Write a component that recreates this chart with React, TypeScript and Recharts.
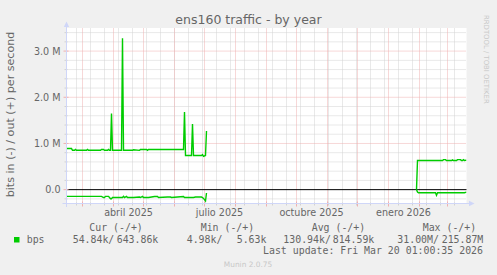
import React from 'react';
import { LineChart, Line, XAxis, YAxis, CartesianGrid, ReferenceLine } from 'recharts';

// x = days since the left edge of the graph (400 days ending Mar 20 2026), y = Mbit/s
const sampleDays = [
  0, 5, 6, 8, 9, 10, 20, 21, 22, 34, 35, 37, 38, 39, 41, 42, 43, 44, 45, 46,
  55, 56, 57, 58, 60, 61, 66, 67, 73, 74, 76, 77, 80, 81, 82, 88, 91, 92, 101, 104,
  105, 111, 117, 118, 119, 125, 126, 127, 129, 135, 136, 137, 139, 140, 141,
  350, 351, 352, 369, 370, 371, 376, 377, 379, 380, 385, 386, 387, 390, 391,
  394, 395, 396, 397, 398, 400,
];
const outMbps = [
  0.89, 0.89, 0.853, 0.853, 0.87, 0.853, 0.853, 0.87, 0.853, 0.853, 0.87, 0.87, 0.853, 0.853, 0.853, 0.87, 0.853, 0.853, 1.65, 0.853,
  0.853, 3.28, 0.853, 0.853, 0.853, 0.853, 0.853, 0.865, 0.85, 0.87, 0.87, 0.87, 0.87, 0.85, 0.87, 0.87, 0.87, 0.87, 0.87, 0.87,
  0.87, 0.87, 0.87, 1.68, 0.74, 0.74, 1.42, 0.74, 0.74, 0.74, 0.76, 0.72, 0.74, 1.27, null,
  0, 0.63, 0.63, 0.63, 0.63, 0.63, 0.63, 0.65, 0.65, 0.63, 0.63, 0.645, 0.63, 0.63, 0.65,
  0.65, 0.63, 0.63, 0.65, 0.63, 0.64,
];
const inMbps = [
  -0.146, -0.146, -0.146, -0.146, -0.146, -0.146, -0.146, -0.146, -0.146, -0.146, -0.146, -0.17, -0.17, -0.146, -0.146, -0.146, -0.17, -0.196, -0.196, -0.17,
  -0.17, -0.17, -0.146, -0.17, -0.146, -0.17, -0.17, -0.17, -0.16, -0.17, -0.145, -0.17, -0.17, -0.17, -0.17, -0.15, -0.15, -0.17, -0.16, -0.16,
  -0.17, -0.16, -0.15, -0.17, -0.17, -0.17, -0.17, -0.17, -0.16, -0.16, -0.17, -0.19, -0.247, -0.073, null,
  0, -0.051, -0.066, -0.066, -0.124, -0.066, -0.066, -0.066, -0.066, -0.066, -0.066, -0.066, -0.066, -0.066, -0.066,
  -0.066, -0.066, -0.066, -0.066, -0.066, -0.055,
];

const monthStartDays = [16, 47, 77, 108, 138, 169, 200, 230, 261, 291, 322, 353, 381];
const minorGridDays = [
  10, 24, 38, 52, 66, 80, 94, 108, 122, 136, 150, 164, 178, 192, 206, 220, 234, 248,
  262, 276, 290, 304, 318, 332, 346, 360, 374, 388,
];
const monthLabelDays = [62, 153, 245, 337];
const monthLabels = ['abril 2025', 'julio 2025', 'octubre 2025', 'enero 2026'];

const majorValues = [0, 1, 2, 3];
const majorLabels = ['0.0', '1.0 M', '2.0 M', '3.0 M'];
const minorValues = [-0.2, 0.2, 0.4, 0.6, 0.8, 1.2, 1.4, 1.6, 1.8, 2.2, 2.4, 2.6, 2.8, 3.2, 3.4];

const legendHeads = ['Cur (-/+)', 'Min (-/+)', 'Avg (-/+)', 'Max (-/+)'];
const legendIn = ['54.84k/', '4.98k/', '130.94k/', '31.00M/'];
const legendOut = ['643.86k', '5.63k', '814.59k', '215.87M'];

const rows = sampleDays.map((d, i) => ({ day: d, out: outMbps[i], in: inMbps[i] }));

const FONT = 'DejaVu Sans, sans-serif';
const MONO = 'DejaVu Sans Mono, monospace';
const TEXT = '#666666';
const AXIS = '#CFD6F8';
const GRID = '#d2d2d2';
const MGRID = '#efb0b0';
const GREEN = '#00CC00';

const xTicks = Array.from(new Set([...minorGridDays, ...monthStartDays, ...monthLabelDays])).sort((a, b) => a - b);
const yTicks = [...minorValues, ...majorValues].sort((a, b) => a - b);

const XTick = ({ x, y, payload }: any) => {
  const v = payload.value;
  const li = monthLabelDays.indexOf(v);
  if (li >= 0) {
    return (
      <text x={x} y={y + 12.5} textAnchor="middle" fontSize={9.6} fill={TEXT} fontFamily={FONT}>
        {monthLabels[li]}
      </text>
    );
  }
  const major = monthStartDays.includes(v);
  return <line x1={x} x2={x} y1={y - (major ? 2 : 1)} y2={y + (major ? 3 : 2)} stroke={major ? MGRID : GRID} />;
};

const YTick = ({ x, y, payload }: any) => {
  const v = payload.value;
  const mi = majorValues.indexOf(v);
  return (
    <g>
      <line x1={x - (mi >= 0 ? 3 : 2)} x2={x + (mi >= 0 ? 2 : 1)} y1={y} y2={y} stroke={mi >= 0 ? MGRID : GRID} />
      {mi >= 0 && (
        <text x={x - 6} y={y + 3.5} textAnchor="end" fontSize={9.6} fill={TEXT} fontFamily={FONT}>
          {majorLabels[mi]}
        </text>
      )}
    </g>
  );
};

export default function App() {
  return (
    <div style={{ position: 'absolute', left: 0, top: 0, width: 497, height: 275, background: '#F0F0F0', overflow: 'hidden' }}>
      <LineChart
        width={497}
        height={275}
        data={rows}
        margin={{ top: 28, right: 30.5, bottom: 41.5, left: 6.5 }}
        style={{ position: 'absolute', left: 0, top: 0 }}
      >
        <CartesianGrid fill="#ffffff" horizontal={false} vertical={false} />
        {minorGridDays.map((d) => (
          <ReferenceLine key={`vx${d}`} x={d} stroke={GRID} strokeDasharray="1 1" />
        ))}
        {minorValues.map((v) => (
          <ReferenceLine key={`hy${v}`} y={v} stroke={GRID} strokeDasharray="1 1" />
        ))}
        {monthStartDays.map((d) => (
          <ReferenceLine key={`mx${d}`} x={d} stroke={MGRID} strokeDasharray="1 1" />
        ))}
        {majorValues.slice(1).map((v) => (
          <ReferenceLine key={`my${v}`} y={v} stroke={MGRID} strokeDasharray="1 1" />
        ))}
        <ReferenceLine y={0} stroke="#000000" strokeWidth={1} />
        <XAxis
          dataKey="day"
          type="number"
          domain={[0, 400]}
          allowDataOverflow
          ticks={xTicks}
          interval={0}
          tick={(p: any) => <XTick {...p} />}
          tickLine={false}
          tickSize={0}
          tickMargin={0}
          height={30}
          axisLine={{ stroke: AXIS }}
        />
        <YAxis
          type="number"
          domain={[-0.3, 3.5]}
          allowDataOverflow
          ticks={yTicks}
          interval={0}
          tick={(p: any) => <YTick {...p} />}
          tickLine={false}
          tickSize={0}
          tickMargin={0}
          width={60}
          axisLine={{ stroke: AXIS }}
        />
        <Line type="linear" dataKey="out" stroke={GREEN} strokeWidth={1.4} dot={false} isAnimationActive={false} />
        <Line type="linear" dataKey="in" stroke={GREEN} strokeWidth={1.4} dot={false} isAnimationActive={false} />
      </LineChart>
      <svg width={497} height={275} style={{ position: 'absolute', left: 0, top: 0, pointerEvents: 'none' }}>
        <line x1={66.5} x2={66.5} y1={25} y2={207} stroke={AXIS} />
        <polygon points="63.8,27 69.2,27 66.5,21.5" fill={AXIS} />
        <line x1={62.5} x2={470} y1={203.5} y2={203.5} stroke={AXIS} />
        <polygon points="469,200.8 469,206.2 474.5,203.5" fill={AXIS} />
        <text x={248.5} y={24} textAnchor="middle" fontSize={12.5} fill={TEXT} fontFamily={FONT}>
          ens160 traffic - by year
        </text>
        <text transform="translate(13.5,114.5) rotate(-90)" textAnchor="middle" fontSize={11.1} fill={TEXT} fontFamily={FONT}>
          bits in (-) / out (+) per second
        </text>
        <text transform="translate(483.5,15) rotate(90)" fontSize={6.9} fill="#c8c8c8" fontFamily={FONT}>
          RRDTOOL / TOBI OETIKER
        </text>
        {legendHeads.map((h, i) => (
          <text key={h} x={[89.3, 200.7, 311.7, 422.7][i]} y={230.5} fontSize={9.9} fill={TEXT} fontFamily={MONO}>
            {h}
          </text>
        ))}
        <rect x={14} y={237} width={5.5} height={5.5} fill={GREEN} />
        <text x={26.7} y={242.7} fontSize={9.9} fill={TEXT} fontFamily={MONO}>
          bps
        </text>
        {legendIn.map((s, i) => (
          <text key={`i${i}`} x={[72.7, 186.7, 283.3, 397.3][i]} y={242.7} fontSize={9.9} fill={TEXT} fontFamily={MONO}>
            {s}
          </text>
        ))}
        {legendOut.map((s, i) => (
          <text key={`o${i}`} x={[116.7, 236.7, 332.7, 441.7][i]} y={242.7} fontSize={9.9} fill={TEXT} fontFamily={MONO}>
            {s}
          </text>
        ))}
        <text x={483} y={254.3} textAnchor="end" fontSize={9.9} fill={TEXT} fontFamily={MONO}>
          Last update: Fri Mar 20 01:00:35 2026
        </text>
        <text x={248} y={266.5} textAnchor="middle" fontSize={7.4} fill="#c8c8c8" fontFamily={FONT}>
          Munin 2.0.75
        </text>
      </svg>
    </div>
  );
}
